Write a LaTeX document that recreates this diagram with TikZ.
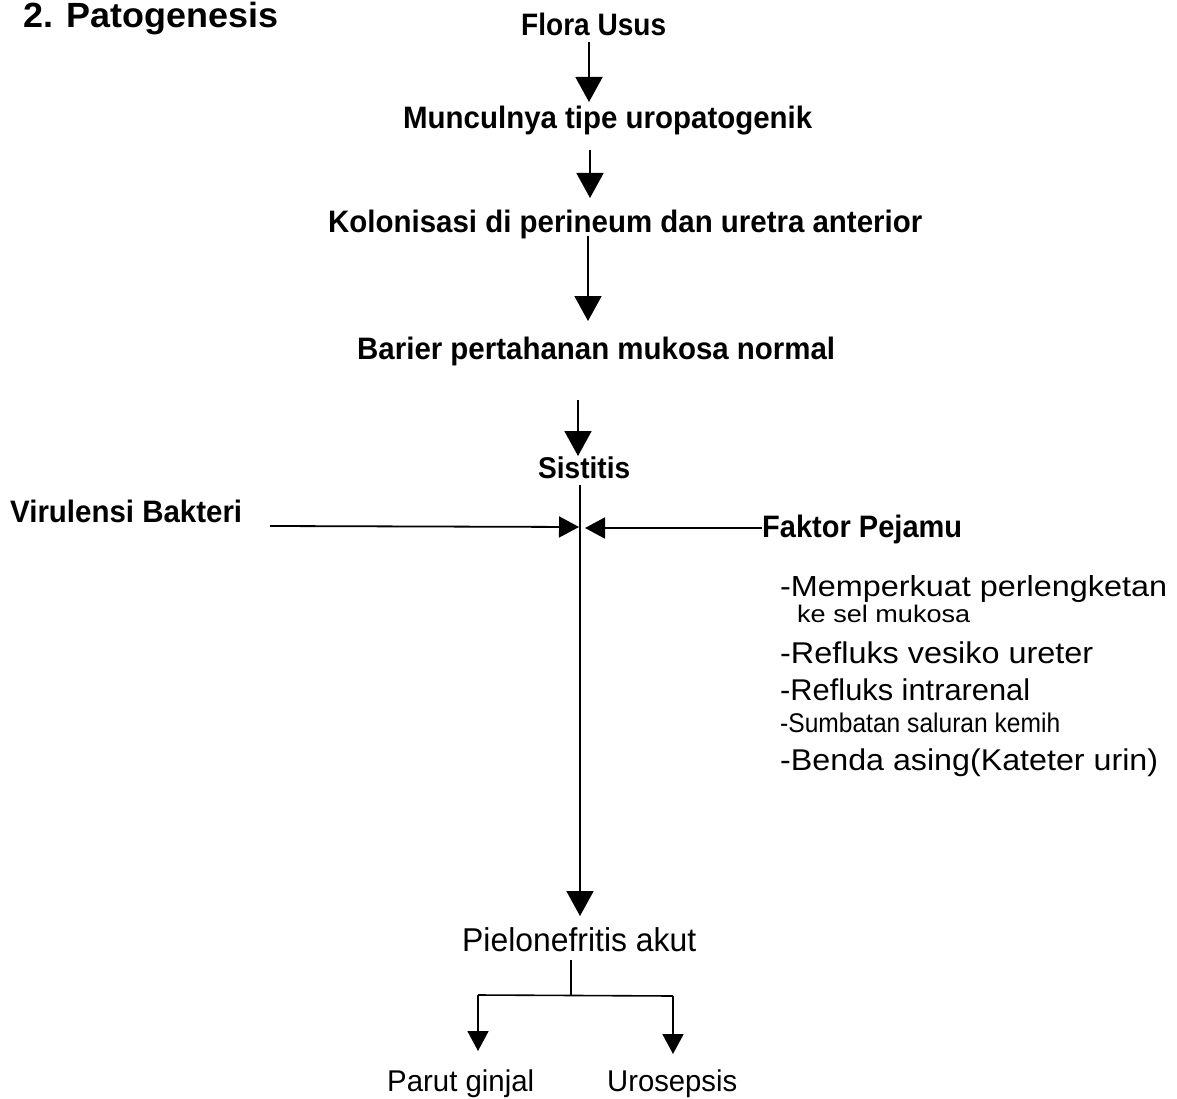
\documentclass[tikz,border=0pt]{standalone}
\usepackage{fontspec}
\setmainfont{Liberation Sans}
\usetikzlibrary{arrows.meta}
\newcommand\fitto[2]{\resizebox{#1pt}{\height}{#2}}
\begin{document}
\begin{tikzpicture}[x=1pt,y=-1pt,
  tb/.style={font=\bfseries\fontsize{31}{34}\selectfont, inner sep=0pt, anchor=base west},
  tl/.style={font=\fontsize{30}{34}\selectfont, inner sep=0pt, anchor=base west},
  arr/.style={line width=1.8pt, -{Triangle[width=27pt,length=25pt]}},
  sarr/.style={line width=1.8pt, -{Triangle[width=21pt,length=20pt]}},
  ln/.style={line width=1.6pt}]
\useasboundingbox (0,0) rectangle (1177,1099);
% texts
\node[tb, font=\bfseries\fontsize{35}{38}\selectfont] (title) at (23,28) {\fitto{255}{2. Patogenesis}};
\node[tb] (flora) at (521,36) {\fitto{145}{Flora Usus}};
\node[tb] (muncul) at (403,129) {\fitto{409}{Munculnya tipe uropatogenik}};
\node[tb] (kolon) at (328,233) {\fitto{594}{Kolonisasi di perineum dan uretra anterior}};
\node[tb] (barier) at (357,359) {\fitto{478}{Barier pertahanan mukosa normal}};
\node[tb, font=\bfseries\fontsize{30}{32}\selectfont] (sist) at (538,478) {\fitto{92}{Sistitis}};
\node[tb] (viru) at (10,522) {\fitto{232}{Virulensi Bakteri}};
\node[tb] (faktor) at (762,537) {\fitto{200}{Faktor Pejamu}};
\node[tl, font=\fontsize{29}{32}\selectfont] (f1) at (780,596) {\fitto{387}{-Memperkuat perlengketan}};
\node[tl, font=\fontsize{24}{26}\selectfont] (f1b) at (797,622) {\fitto{173}{ke sel mukosa}};
\node[tl] (f2) at (780,663) {\fitto{313}{-Refluks vesiko ureter}};
\node[tl] (f3) at (780,700) {\fitto{250}{-Refluks intrarenal}};
\node[tl, font=\fontsize{27}{30}\selectfont] (f4) at (780,732) {\fitto{280}{-Sumbatan saluran kemih}};
\node[tl] (f5) at (780,770) {\fitto{378}{-Benda asing(Kateter urin)}};
\node[tl, font=\fontsize{33}{36}\selectfont] (pielo) at (462,951) {\fitto{234}{Pielonefritis akut}};
\node[tl] (parut) at (387,1091) {\fitto{147}{Parut ginjal}};
\node[tl] (uro) at (607,1091) {\fitto{130}{Urosepsis}};
% coordinates
\coordinate (a1s) at (589,42);  \coordinate (a1e) at (589,102);
\coordinate (a2s) at (590,150); \coordinate (a2e) at (590,198);
\coordinate (a3s) at (588,236); \coordinate (a3e) at (588,321);
\coordinate (a4s) at (578,400); \coordinate (a4e) at (578,456);
\coordinate (vs) at (580,485);  \coordinate (ve) at (580,916);
\coordinate (ls) at (270,526);  \coordinate (le) at (579,527);
\coordinate (rs) at (762,528);  \coordinate (re) at (585,528);
\coordinate (ps) at (571,960);  \coordinate (pj) at (571,995);
\coordinate (bl) at (478,995);  \coordinate (br) at (673,996);
\coordinate (ble) at (478,1051); \coordinate (bre) at (673,1054);
% connectors
\draw[arr] (a1s) -- (a1e);
\draw[arr] (a2s) -- (a2e);
\draw[arr] (a3s) -- (a3e);
\draw[arr] (a4s) -- (a4e);
\draw[arr] (vs) -- (ve);
\draw[sarr] (ls) -- (le);
\draw[sarr] (rs) -- (re);
\draw[ln] (ps) -- (pj);
\draw[ln] (bl) -- (br);
\draw[sarr] (bl) -- (ble);
\draw[sarr] (br) -- (bre);
\end{tikzpicture}
\end{document}
